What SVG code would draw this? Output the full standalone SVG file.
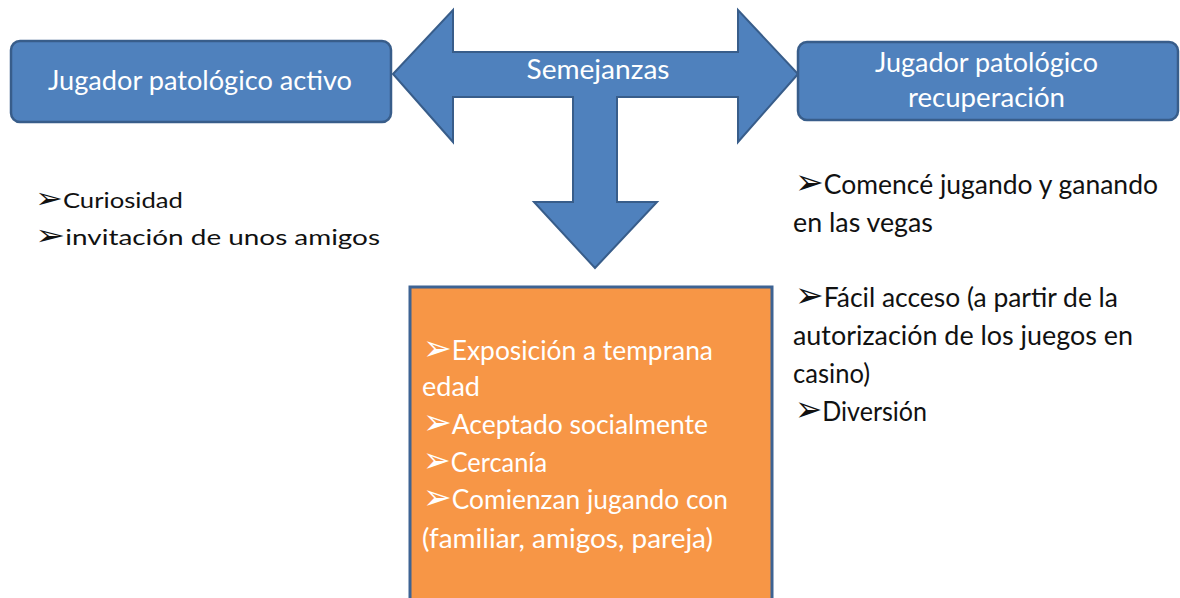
<svg xmlns="http://www.w3.org/2000/svg" width="1180" height="598" viewBox="0 0 1180 598">
<style>
.box{fill:#4F81BD;stroke:#385D8A;stroke-width:2.5}
.arrow{fill:#4F81BD;stroke:#385D8A;stroke-width:2;stroke-linejoin:miter}
.lbl{font-family:Lato,"Liberation Sans",sans-serif;font-size:26px;fill:#FFFFFF}
.blk{font-family:Lato,"Liberation Sans",sans-serif;font-size:27px;fill:#111111}
.sm{font-size:22px}
.wht{font-family:Lato,"Liberation Sans",sans-serif;font-size:27px;fill:#FFFFFF}
.bul{font-family:"DejaVu Sans",sans-serif;font-size:1.3em}
</style>
<rect width="1180" height="598" fill="#FFFFFF"/>
<g id="connectors">
<polygon class="arrow" points="393,74 453,10 453,52 738,52 738,10 798,74 738,142 738,97 617,97 617,202 657,202 595,268 534,202 573,202 573,97 453,97 453,142"/>
<text class="lbl" x="598" y="79" text-anchor="middle" textLength="143" lengthAdjust="spacingAndGlyphs">Semejanzas</text>
</g>
<g id="node-activo">
<rect class="box" x="11" y="41" width="380" height="81" rx="9"/>
<text class="lbl" x="48" y="90" textLength="304" lengthAdjust="spacingAndGlyphs">Jugador patológico activo</text>
</g>
<g id="node-recuperacion">
<rect class="box" x="798" y="42" width="380" height="78" rx="9"/>
<text class="lbl" x="875" y="72" textLength="223" lengthAdjust="spacingAndGlyphs">Jugador patológico</text>
<text class="lbl" x="908" y="107" textLength="157" lengthAdjust="spacingAndGlyphs">recuperación</text>
</g>
<g id="list-activo">
<text class="blk sm" x="35" y="208" textLength="148" lengthAdjust="spacingAndGlyphs"><tspan class="bul">➢</tspan>Curiosidad</text>
<text class="blk sm" x="35" y="245" textLength="345" lengthAdjust="spacingAndGlyphs"><tspan class="bul">➢</tspan>invitación de unos amigos</text>
</g>
<g id="list-recuperacion">
<text class="blk" x="795" y="194" textLength="363" lengthAdjust="spacingAndGlyphs"><tspan class="bul">➢</tspan>Comencé jugando y ganando</text>
<text class="blk" x="793" y="232" textLength="140" lengthAdjust="spacingAndGlyphs">en las vegas</text>
<text class="blk" x="795" y="307" textLength="323" lengthAdjust="spacingAndGlyphs"><tspan class="bul">➢</tspan>Fácil acceso (a partir de la</text>
<text class="blk" x="793" y="345" textLength="340" lengthAdjust="spacingAndGlyphs">autorización de los juegos en</text>
<text class="blk" x="793" y="383" textLength="77" lengthAdjust="spacingAndGlyphs">casino)</text>
<text class="blk" x="795" y="421" textLength="132" lengthAdjust="spacingAndGlyphs"><tspan class="bul">➢</tspan>Diversión</text>
</g>
<g id="node-semejanzas">
<rect x="410" y="287" width="362" height="330" fill="#F79646" stroke="#3D6393" stroke-width="3"/>
<text class="wht" x="423" y="360" textLength="290" lengthAdjust="spacingAndGlyphs"><tspan class="bul">➢</tspan>Exposición a temprana</text>
<text class="wht" x="422" y="396" textLength="58" lengthAdjust="spacingAndGlyphs">edad</text>
<text class="wht" x="423" y="434" textLength="285" lengthAdjust="spacingAndGlyphs"><tspan class="bul">➢</tspan>Aceptado socialmente</text>
<text class="wht" x="423" y="472" textLength="124" lengthAdjust="spacingAndGlyphs"><tspan class="bul">➢</tspan>Cercanía</text>
<text class="wht" x="423" y="509" textLength="305" lengthAdjust="spacingAndGlyphs"><tspan class="bul">➢</tspan>Comienzan jugando con</text>
<text class="wht" x="422" y="548" textLength="291" lengthAdjust="spacingAndGlyphs">(familiar, amigos, pareja)</text>
</g>
</svg>
